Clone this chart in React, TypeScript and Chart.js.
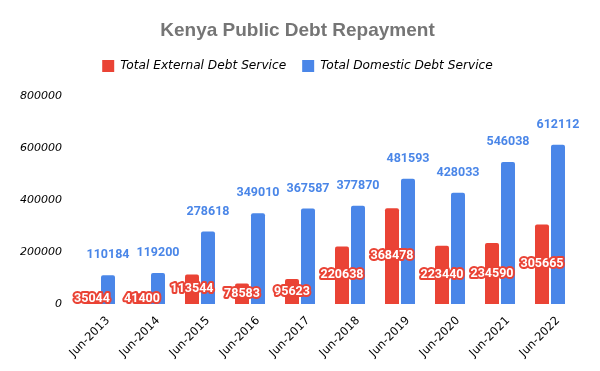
import React, { useEffect, useRef } from "react";
import { Chart, registerables } from "chart.js";

Chart.register(...registerables);

const categories = ["Jun-2013", "Jun-2014", "Jun-2015", "Jun-2016", "Jun-2017", "Jun-2018", "Jun-2019", "Jun-2020", "Jun-2021", "Jun-2022"];
const externalDebt = [35044, 41400, 113544, 78583, 95623, 220638, 368478, 223440, 234590, 305665];
const domesticDebt = [110184, 119200, 278618, 349010, 367587, 377870, 481593, 428033, 546038, 612112];
const seriesNames = ["Total External Debt Service", "Total Domestic Debt Service"];
const chartTitle = "Kenya Public Debt Repayment";

const RED = "#ea4335";
const BLUE = "#4a86e8";
const COMIC = "'DejaVu Sans', sans-serif";

const labelPlugin = {
  id: "barLabels",
  afterDatasetsDraw(chart: any) {
    const ctx = chart.ctx;
    ctx.save();
    ctx.font = "bold 12.5px Roboto";
    ctx.textAlign = "center";
    ctx.textBaseline = "middle";
    chart.data.datasets.forEach((ds: any, di: number) => {
      const meta = chart.getDatasetMeta(di);
      meta.data.forEach((bar: any, i: number) => {
        const v = ds.data[i];
        const text = String(v);
        if (di === 1) {
          ctx.fillStyle = BLUE;
          ctx.fillText(text, bar.x, bar.y - 20);
        } else {
          const y = (bar.y + bar.base) / 2;
          ctx.lineJoin = "round";
          ctx.lineWidth = 4;
          ctx.strokeStyle = RED;
          ctx.strokeText(text, bar.x, y);
          ctx.fillStyle = "#ffffff";
          ctx.fillText(text, bar.x, y);
        }
      });
    });
    ctx.restore();
  },
};

const legendSpacer = {
  id: "legendSpacer",
  beforeInit(chart: any) {
    const orig = chart.legend.fit;
    chart.legend.fit = function () {
      orig.call(this);
      this.height += 14;
    };
  },
};

export default function App() {
  const ref = useRef<HTMLCanvasElement>(null);
  useEffect(() => {
    if (!ref.current) return;
    const chart = new Chart(ref.current, {
      type: "bar",
      data: {
        labels: categories,
        datasets: [
          { label: seriesNames[0], data: externalDebt, backgroundColor: RED, borderRadius: 2, categoryPercentage: 0.64, barPercentage: 0.875 },
          { label: seriesNames[1], data: domesticDebt, backgroundColor: BLUE, borderRadius: 2, categoryPercentage: 0.64, barPercentage: 0.875 },
        ],
      },
      options: {
        animation: false,
        responsive: false,
        maintainAspectRatio: false,
        layout: { padding: { left: 20, right: 25, top: 10, bottom: 1 } },
        plugins: {
          title: {
            display: true,
            text: chartTitle,
            color: "#757575",
            font: { family: "'Liberation Sans', Arial, sans-serif", size: 19, weight: "bold" },
            padding: { top: 9, bottom: 2 },
          },
          legend: {
            labels: {
              boxWidth: 12,
              boxHeight: 12,
              color: "#000",
              font: { family: COMIC, size: 12.2, style: "italic" },
              padding: 16,
            },
          },
          tooltip: { enabled: false },
        },
        scales: {
          x: {
            grid: { display: false, drawTicks: false },
            border: { display: false },
            afterFit: (scale: any) => {
              scale.paddingLeft = 0;
              scale.paddingRight = 0;
            },
            ticks: {
              color: "#000",
              maxRotation: 45,
              minRotation: 45,
              padding: 10,
              labelOffset: 8,
              font: { family: COMIC, size: 11.5 },
            },
          },
          y: {
            min: 0,
            max: 800000,
            grid: { display: false, drawTicks: false },
            border: { display: false },
            afterFit: (scale: any) => {
              scale.width = 55;
            },
            ticks: {
              stepSize: 200000,
              color: "#000",
              padding: 13,
              callback: (v: any) => String(v),
              font: { family: COMIC, size: 11, style: "italic" },
            },
          },
        },
      },
      plugins: [labelPlugin, legendSpacer],
    });
    return () => chart.destroy();
  }, []);
  return (
    <div style={{ position: "fixed", left: 0, top: 0, width: 600, height: 371, background: "#fff" }}>
      <canvas ref={ref} width={600} height={371} style={{ width: 600, height: 371 }} />
    </div>
  );
}
